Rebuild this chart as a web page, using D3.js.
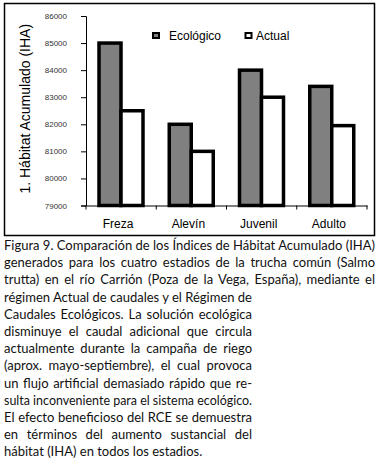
<!DOCTYPE html>
<html lang="es">
<head>
    <meta charset="UTF-8">
    <title>Figura 9 - IHA</title>
    <script src="https://d3js.org/d3.v7.min.js"></script>
    <style>
        html, body { margin: 0; padding: 0; background: #fff; }
        svg { display: block; }
        .axis-font { font-family: Arial, "Liberation Sans", sans-serif; }
        .caption { font-family: Lato, "Noto Sans", sans-serif; font-size: 13px; fill: #111; }
    </style>
</head>
<body>
<div id="chart"></div>
<script>
    // Data
    const stages = ['Freza', 'Alevín', 'Juvenil', 'Adulto'];
    const series = ['Ecológico', 'Actual'];
    const ecologico = [85000, 82000, 84000, 83400];
    const actual = [82500, 81000, 83000, 81950];
    const yTicks = [79000, 80000, 81000, 82000, 83000, 84000, 85000, 86000];
    const yTitle = '1. Hábitat Acumulado (IHA)';
    const captionLines = [
        'Figura 9. Comparación de los Índices de Hábitat Acumulado (IHA)',
        'generados para los cuatro estadios de la trucha común (Salmo',
        'trutta) en el río Carrión (Poza de la Vega, España), mediante el',
        'régimen Actual de caudales y el Régimen de',
        'Caudales Ecológicos. La solución ecológica',
        'disminuye el caudal adicional que circula',
        'actualmente durante la campaña de riego',
        '(aprox. mayo-septiembre), el cual provoca',
        'un flujo artificial demasiado rápido que re-',
        'sulta inconveniente para el sistema ecológico.',
        'El efecto beneficioso del RCE se demuestra',
        'en términos del aumento sustancial del',
        'hábitat (IHA) en todos los estadios.'
    ];

    const rows = stages.map((s, i) => ({ stage: s, values: [ecologico[i], actual[i]] }));

    const width = 380;
    const height = 465;

    const svg = d3.select('#chart')
        .append('svg')
        .attr('width', width)
        .attr('height', height);

    // Frame around the chart
    svg.append('rect')
        .attr('x', 4.5).attr('y', 3.5)
        .attr('width', 370).attr('height', 232)
        .attr('fill', 'none')
        .attr('stroke', '#000')
        .attr('stroke-width', 1.5);

    const plot = { left: 86, right: 367, top: 16, bottom: 205.5 };

    const x0 = d3.scaleBand()
        .domain(stages)
        .range([plot.left, plot.right])
        .padding(0);

    const x1 = d3.scaleBand()
        .domain(series)
        .range([13, 57])
        .padding(0);

    const y = d3.scaleLinear()
        .domain([79000, 86000])
        .range([plot.bottom, plot.top]);

    const color = d3.scaleOrdinal()
        .domain(series)
        .range(['#808080', '#ffffff']);

    // Bars
    const groups = svg.append('g')
        .selectAll('g')
        .data(rows)
        .enter()
        .append('g')
        .attr('transform', d => `translate(${x0(d.stage)},0)`);

    groups.selectAll('rect')
        .data(d => d.values.map((v, i) => ({ key: series[i], value: v })))
        .enter()
        .append('rect')
        .attr('x', d => x1(d.key))
        .attr('y', d => y(d.value))
        .attr('width', x1.bandwidth())
        .attr('height', d => y(79000) - y(d.value))
        .attr('fill', d => color(d.key))
        .attr('stroke', '#000')
        .attr('stroke-width', 3.5);

    // Y axis
    const yAxis = svg.append('g')
        .attr('class', 'axis-font')
        .attr('transform', `translate(${plot.left},0)`)
        .call(d3.axisLeft(y).tickValues(yTicks).tickSize(5).tickPadding(14).tickFormat(d3.format('d')));
    yAxis.select('.domain').attr('stroke', '#000').attr('stroke-width', 1);
    yAxis.selectAll('.tick line').attr('stroke', '#000');
    yAxis.selectAll('.tick text')
        .attr('font-size', 8)
        .attr('fill', '#333');

    // X axis
    const xAxis = svg.append('g')
        .attr('class', 'axis-font')
        .attr('transform', `translate(0,${plot.bottom})`)
        .call(d3.axisBottom(x0).tickSize(0).tickPadding(14).tickSizeOuter(0));
    xAxis.select('.domain').attr('stroke', '#000');
    xAxis.selectAll('.tick text')
        .attr('font-size', 12)
        .attr('fill', '#000')
        .attr('dx', -3);

    // category separators on x axis
    const edges = stages.map(s => x0(s)).concat([x0(stages[stages.length - 1]) + x0.bandwidth()]);
    svg.append('g')
        .selectAll('line')
        .data(edges)
        .enter()
        .append('line')
        .attr('x1', d => d).attr('x2', d => d)
        .attr('y1', plot.bottom).attr('y2', plot.bottom + 4)
        .attr('stroke', '#000');

    // Y title
    svg.append('text')
        .attr('class', 'axis-font')
        .attr('transform', `translate(30,${(plot.top + plot.bottom) / 2 - 2}) rotate(-90)`)
        .attr('text-anchor', 'middle')
        .attr('font-size', 14)
        .attr('fill', '#000')
        .text(yTitle);

    // Legend
    const legendPos = [{ sx: 153, tx: 169 }, { sx: 245.5, tx: 256 }];
    const legend = svg.selectAll('.legend')
        .data(series)
        .enter()
        .append('g')
        .attr('class', 'legend axis-font');

    legend.append('rect')
        .attr('x', (d, i) => legendPos[i].sx)
        .attr('y', 33)
        .attr('width', 6)
        .attr('height', 5)
        .attr('fill', d => color(d))
        .attr('stroke', '#000')
        .attr('stroke-width', 2);

    legend.append('text')
        .attr('x', (d, i) => legendPos[i].tx)
        .attr('y', 39.5)
        .attr('font-size', 12)
        .attr('fill', '#000')
        .text(d => d);

    // Caption, justified like the source page
    const capLeft = 4;
    const capTop = 250;
    const capStep = 17.2;
    const capWidths = captionLines.map((l, i) => i < 3 ? 371 : (i < 12 ? 248 : null));

    const cap = svg.append('g');
    captionLines.forEach((line, i) => {
        const t = cap.append('text')
            .attr('class', 'caption')
            .attr('x', capLeft)
            .attr('y', capTop + i * capStep)
            .text(line);
        const target = capWidths[i];
        if (target === null) return;
        const natural = t.node().getComputedTextLength();
        const spaces = (line.match(/ /g) || []).length;
        if (natural < target && spaces > 0) {
            t.attr('word-spacing', (target - natural) / spaces);
        } else {
            t.attr('textLength', target).attr('lengthAdjust', 'spacingAndGlyphs');
        }
    });
</script>
</body>
</html>
